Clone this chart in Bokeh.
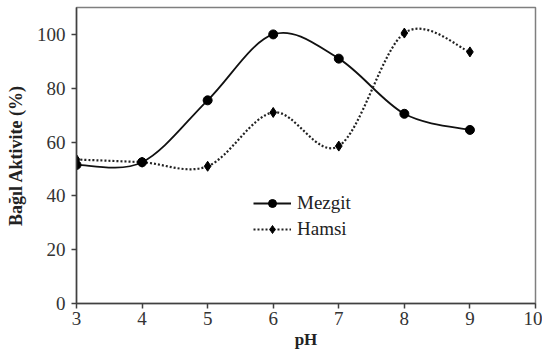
from bokeh.plotting import figure
from bokeh.embed import file_html
from bokeh.resources import INLINE
from bokeh.models import Range1d, FixedTicker, Legend, LegendItem, ColumnDataSource
import numpy as np

ph = [3, 4, 5, 6, 7, 8, 9]
mezgit = [51.5, 52.5, 75.5, 100, 91, 70.5, 64.5]
hamsi = [53.5, 52.5, 51, 71, 58.5, 100.5, 93.5]
x_ticks = [3, 4, 5, 6, 7, 8, 9, 10]
y_ticks = [0, 20, 40, 60, 80, 100]

FONT = "'Liberation Serif', serif"

p = figure(width=542, height=353, output_backend="svg", toolbar_location=None,
           x_range=Range1d(3, 10), y_range=Range1d(0, 110),
           min_border_left=76, min_border_right=7, min_border_top=7, min_border_bottom=50)
p.grid.visible = False
p.outline_line_color = "#7f7f7f"
p.outline_line_width = 1.5
p.background_fill_color = "white"
p.border_fill_color = "white"

for ax, ticks in ((p.xaxis, x_ticks), (p.yaxis, y_ticks)):
    ax.ticker = FixedTicker(ticks=ticks)
    ax.minor_tick_line_color = None
    ax.major_tick_in = 0
    ax.major_tick_out = 5
    ax.axis_line_color = "#404040"
    ax.axis_line_width = 1.5
    ax.major_tick_line_color = "#404040"
    ax.major_tick_line_width = 1.5
    ax.major_label_text_font = FONT
    ax.major_label_text_font_size = "19px"
    ax.major_label_text_color = "#333333"
    ax.axis_label_text_font = FONT
    ax.axis_label_text_font_style = "bold"
    ax.axis_label_text_color = "#222222"

p.xaxis.axis_label = "pH"
p.yaxis.axis_label = "Bağıl Aktivite (%)"
p.xaxis.axis_label_text_font_size = "17px"
p.yaxis.axis_label_text_font_size = "18px"
p.xaxis.axis_label_standoff = 2
p.yaxis.axis_label_standoff = 8
p.xaxis.major_label_standoff = 3
p.yaxis.major_label_standoff = 6


def smooth_segments(xs, ys):
    xs = np.asarray(xs, float)
    ys = np.asarray(ys, float)
    n = len(xs)
    d = dict(x0=[], y0=[], x1=[], y1=[], cx0=[], cy0=[], cx1=[], cy1=[])
    for i in range(n - 1):
        im = max(i - 1, 0)
        ip2 = min(i + 2, n - 1)
        d["x0"].append(xs[i]); d["y0"].append(ys[i])
        d["x1"].append(xs[i + 1]); d["y1"].append(ys[i + 1])
        d["cx0"].append(xs[i] + (xs[i + 1] - xs[im]) / 6)
        d["cy0"].append(ys[i] + (ys[i + 1] - ys[im]) / 6)
        d["cx1"].append(xs[i + 1] - (xs[ip2] - xs[i]) / 6)
        d["cy1"].append(ys[i + 1] - (ys[ip2] - ys[i]) / 6)
    return ColumnDataSource(d)


p.bezier("x0", "y0", "x1", "y1", "cx0", "cy0", "cx1", "cy1",
         source=smooth_segments(ph, mezgit), line_color="#111111", line_width=1.8)
p.bezier("x0", "y0", "x1", "y1", "cx0", "cy0", "cx1", "cy1",
         source=smooth_segments(ph, hamsi), line_color="#222222", line_width=2.2,
         line_dash="2 2")

m_pts = p.scatter(ph, mezgit, marker="circle", size=9, color="black")
h_pts = p.scatter(ph, hamsi, marker="diamond", size=10, color="black")

m_leg = p.line([np.nan], [np.nan], line_color="#111111", line_width=1.8)
h_leg = p.line([np.nan], [np.nan], line_color="#222222", line_width=2.2, line_dash="2 2")

legend = Legend(items=[LegendItem(label="Mezgit", renderers=[m_leg, m_pts]),
                       LegendItem(label="Hamsi", renderers=[h_leg, h_pts])],
                location=(177, 62), border_line_color=None, background_fill_alpha=0,
                label_text_font=FONT, label_text_font_size="19px",
                label_text_color="#222222", glyph_width=38, label_height=24,
                glyph_height=20, spacing=2, label_standoff=6, padding=2, margin=0)
p.add_layout(legend, "center")

open("out.html", "w").write(file_html(p, INLINE))
